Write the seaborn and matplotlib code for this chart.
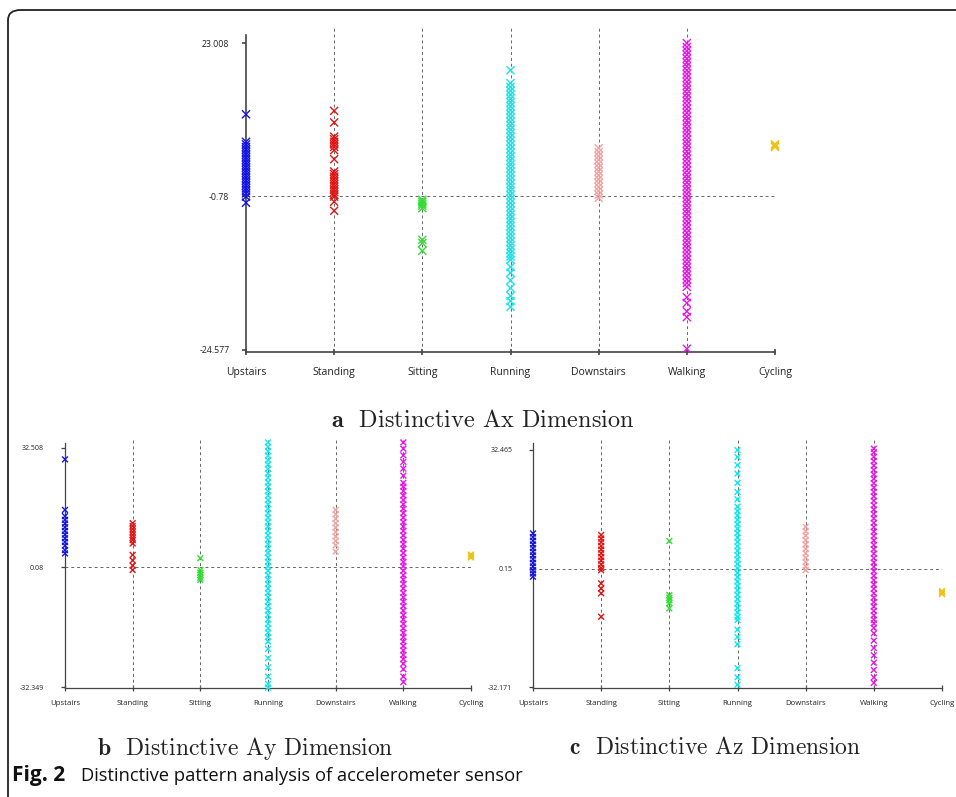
import numpy as np
import pandas as pd
import matplotlib.pyplot as plt
import seaborn as sns
from matplotlib.patches import FancyBboxPatch

sns.set_theme(style="white")
plt.rcParams['font.family'] = ['Open Sans', 'DejaVu Sans']
plt.rcParams['mathtext.fontset'] = 'cm'

activities = ['Upstairs', 'Standing', 'Sitting', 'Running', 'Downstairs', 'Walking', 'Cycling']
colors = ['#1414e0', '#e01414', '#33dd33', '#14e6ee', '#f2a2a2', '#e814e8', '#f0c010']

# ---------------- Ax values ----------------
ax_upstairs = [11.96, 7.7, 7.3, 6.9, 6.5, 6.1, 5.7, 5.3, 4.9, 4.5, 4.1, 3.7, 3.3, 2.9,
               2.5, 2.1, 1.7, 1.3, 0.9, 0.5, 0.1, -0.3, -0.8, -1.75]
ax_standing = [12.5, 10.7, 8.5, 8.1, 7.7, 7.3, 6.9, 6.4, 5.0, 3.1, 2.7, 2.3, 1.9, 1.5,
               1.1, 0.7, 0.3, -0.1, -0.5, -0.8, -1.6, -3.0]
ax_sitting = [-1.3, -1.6, -1.9, -2.2, -2.6, -7.5, -8.0, -9.2]
ax_running = [18.8, 16.8, 16.2, 15.6, 15.0, 14.4, 13.8, 13.2, 12.6, 12.0, 11.4, 10.8, 10.2,
              9.6, 9.0, 8.4, 7.8, 7.2, 6.6, 6.0, 5.4, 4.8, 4.2, 3.6, 3.0, 2.4, 1.8, 1.2,
              0.6, 0.0, -0.6, -1.2, -1.8, -2.4, -3.0, -3.6, -4.2, -4.8, -5.4, -6.0, -6.6,
              -7.2, -7.8, -8.4, -9.0, -9.6, -10.1, -10.6, -11.7, -12.6, -13.8, -15.0,
              -16.2, -17.0, -17.9]
ax_downstairs = [6.7, 6.1, 5.5, 4.9, 4.3, 3.7, 3.1, 2.5, 1.9, 1.3, 0.7, 0.1, -0.5, -1.0]
ax_walking = [23.0, 22.4, 21.8, 21.2, 20.6, 20.0, 19.4, 18.8, 18.2, 17.6, 17.0, 16.4, 15.8,
              15.2, 14.6, 14.0, 13.4, 12.8, 12.2, 11.6, 11.0, 10.4, 9.8, 9.2, 8.6, 8.0,
              7.4, 6.8, 6.2, 5.6, 5.0, 4.4, 3.8, 3.2, 2.6, 2.0, 1.4, 0.8, 0.2, -0.4, -1.0,
              -1.6, -2.2, -2.8, -3.4, -4.0, -4.6, -5.2, -5.8, -6.4, -7.0, -7.6, -8.2,
              -8.8, -9.4, -10.0, -10.6, -11.2, -11.8, -12.4, -13.0, -13.6, -14.2, -14.8,
              -16.4, -17.3, -18.6, -19.5, -24.4]
ax_cycling = [7.3, 7.1, 6.9]

# ---------------- Ay values (panel b) ----------------
ay_upstairs = [29.4, 15.7, 14.0, 13.0, 12.0, 11.0, 10.0, 9.0, 8.0, 7.0, 6.0, 4.8, 3.9]
ay_standing = [12.1, 11.3, 10.5, 9.7, 8.9, 8.1, 7.5, 6.6, 3.5, 2.0, 0.6, -0.6]
ay_sitting = [2.6, -0.6, -1.3, -2.0, -2.7, -3.3]
ay_running = [34.0, 32.8, 31.6, 30.4, 29.2, 28.0, 26.8, 25.6, 24.4, 23.2, 22.0, 20.8, 19.6,
              18.4, 17.2, 16.0, 14.8, 13.6, 12.4, 11.2, 10.0, 8.8, 7.6, 6.4, 5.2, 4.0, 2.8,
              1.6, 0.4, -0.8, -2.0, -3.2, -4.4, -5.6, -6.8, -8.0, -9.2, -10.4, -11.6,
              -12.8, -14.0, -15.2, -16.4, -17.6, -18.8, -20.0, -22.0, -24.5, -27.0,
              -29.5, -31.5, -32.5]
ay_downstairs = [15.7, 14.5, 13.3, 12.1, 10.9, 9.7, 8.5, 7.3, 6.1, 4.4]
ay_walking = [34.0, 32.3, 30.5, 28.7, 26.9, 25.0, 23.0, 22.0, 20.8, 19.6, 18.4, 17.2, 16.0,
              14.8, 13.6, 12.4, 11.2, 10.0, 8.8, 7.6, 6.4, 5.2, 4.0, 2.8, 1.6, 0.4, -0.8,
              -2.0, -3.2, -4.4, -5.6, -6.8, -8.0, -9.2, -10.4, -11.6, -12.8, -14.0, -15.2,
              -16.4, -17.6, -18.8, -20.0, -21.2, -22.4, -23.6, -24.8, -26.0, -27.5, -29.5,
              -31.0]
ay_cycling = [3.6, 3.2, 2.8]

# ---------------- Az values (panel c) ----------------
az_upstairs = [9.7, 8.7, 7.7, 6.7, 5.7, 4.7, 3.7, 2.7, 1.7, 0.7, -0.3, -1.2, -2.1]
az_standing = [9.3, 8.3, 7.3, 6.3, 5.3, 4.3, 3.3, 2.3, 1.3, 0.3, -0.3, -3.9, -5.3, -6.6, -13.0]
az_sitting = [7.65, -7.1, -7.8, -8.5, -9.3, -10.7]
az_running = [32.4, 30.5, 28.3, 26.0, 23.5, 21.0, 19.0, 17.0, 15.8, 14.6, 13.4, 12.2, 11.0,
              9.8, 8.6, 7.4, 6.2, 5.0, 3.8, 2.6, 1.4, 0.2, -1.0, -2.2, -3.4, -4.6, -5.8,
              -7.0, -8.2, -9.4, -10.6, -11.8, -13.0, -13.9, -16.5, -18.5, -20.5, -27.0,
              -29.5, -31.5]
az_downstairs = [11.5, 10.3, 9.1, 7.9, 6.7, 5.5, 4.3, 3.1, 1.9, 0.7, -0.3]
az_walking = [32.8, 31.8, 30.6, 29.4, 28.2, 27.0, 25.8, 24.6, 23.4, 22.2, 21.0, 19.8, 18.6,
              17.4, 16.2, 15.0, 13.8, 12.6, 11.4, 10.2, 9.0, 7.8, 6.6, 5.4, 4.2, 3.0, 1.8,
              0.6, -0.6, -1.8, -3.0, -4.2, -5.4, -6.6, -7.8, -9.0, -10.2, -11.4, -12.6,
              -13.8, -14.8, -16.0, -17.5, -19.5, -21.5, -23.5, -25.5, -27.5, -29.5, -31.0]
az_cycling = [-6.0, -6.4, -6.8]

# axis labels: (bottom, middle, top) as printed
ax_ticks = [-24.577, -0.78, 23.008]
ay_ticks = [-32.349, 0.08, 32.508]
az_ticks = [-32.171, 0.15, 32.465]


def to_frame(groups):
    rows = []
    for act, vals in zip(activities, groups):
        rows += [(act, v) for v in vals]
    return pd.DataFrame(rows, columns=['activity', 'value'])


df_x = to_frame([ax_upstairs, ax_standing, ax_sitting, ax_running, ax_downstairs, ax_walking, ax_cycling])
df_y = to_frame([ay_upstairs, ay_standing, ay_sitting, ay_running, ay_downstairs, ay_walking, ay_cycling])
df_z = to_frame([az_upstairs, az_standing, az_sitting, az_running, az_downstairs, az_walking, az_cycling])

fig = plt.figure(figsize=(9.56, 7.97), dpi=100)
W, H = 956, 797


def add_axes(left, right, top, bottom):
    return fig.add_axes([left / W, 1 - bottom / H, (right - left) / W, (bottom - top) / H])


def draw_panel(ax, df, ticks, ylim, spine_top, msize, xfs, yfs, xpad, ypad, lw):
    sns.stripplot(data=df, x='activity', y='value', hue='activity', order=activities,
                  hue_order=activities, palette=colors, marker='x', size=msize,
                  linewidth=1.0, jitter=False, legend=False, ax=ax, zorder=3)
    for c in ax.collections:
        c.set_clip_on(False)
    ax.set_xlim(0, 6)
    ax.set_ylim(*ylim)
    for i in range(1, 7):
        ax.axvline(i, color='#666666', lw=0.7, ls=(0, (3, 3)), zorder=1)
    ax.axhline(ticks[1], color='#666666', lw=0.7, ls=(0, (3, 3)), zorder=1)
    for s in ['top', 'right']:
        ax.spines[s].set_visible(False)
    for s in ['left', 'bottom']:
        ax.spines[s].set_color('#444444')
        ax.spines[s].set_linewidth(lw)
    ax.spines['left'].set_bounds(ylim[0], spine_top)
    ax.set_yticks(ticks)
    ax.set_yticklabels([f"{t:g}" if t != ticks[0] and t != ticks[2] else f"{t}" for t in ticks])
    ax.set_xlabel('')
    ax.set_ylabel('')
    ax.tick_params(axis='x', labelsize=xfs, pad=xpad, direction='inout', length=5,
                   width=lw, color='#444444', bottom=True, labelcolor='#222222')
    ax.tick_params(axis='y', labelsize=yfs, pad=ypad, direction='out', length=3,
                   width=lw, color='#444444', left=True, labelcolor='#222222')
    ax.grid(False)
    ax.set_facecolor('none')


# panel a
axa = add_axes(246, 775, 27, 352)
draw_panel(axa, df_x, ax_ticks, (-24.9, 25.5), 24.25, 5.8, 7.5, 6.3, 8, 9, 1.2)

# panel b
axb = add_axes(65, 471, 438, 688)
draw_panel(axb, df_y, ay_ticks, (-32.6, 35.2), 33.9, 4.2, 5.6, 5.0, 6, 12, 0.9)

# panel c
axc = add_axes(533, 942, 438, 688)
draw_panel(axc, df_z, az_ticks, (-32.4, 35.7), 34.3, 4.2, 5.6, 5.0, 6, 12, 0.9)

# sub-captions
fig.text(483 / W, 1 - 421 / H, r"$\mathbf{a}$  Distinctive Ax Dimension", family='cmr10',
         fontsize=17.5, ha='center', va='center', color='#222222')
fig.text(245 / W, 1 - 748 / H, r"$\mathbf{b}$  Distinctive Ay Dimension", family='cmr10',
         fontsize=17, ha='center', va='center', color='#222222')
fig.text(715 / W, 1 - 748 / H, r"$\mathbf{c}$  Distinctive Az Dimension", family='cmr10',
         fontsize=17, ha='center', va='center', color='#222222')

# figure caption
fig.text(12 / W, 1 - 776 / H, "Fig. 2", family=['Liberation Sans Narrow', 'Open Sans'],
         fontweight='bold', fontsize=15, ha='left', va='center', color='#111111')
fig.text(81 / W, 1 - 776 / H, "Distinctive pattern analysis of accelerometer sensor",
         family=['Liberation Sans Narrow', 'Open Sans'], fontsize=13.2, ha='left',
         va='center', color='#111111')

# rounded frame (top and left edges visible)
frame = FancyBboxPatch((8 / W, -0.2), 1.2, 1.2 - 10 / H,
                       boxstyle="round,pad=0,rounding_size=0.013",
                       transform=fig.transFigure, fill=False, edgecolor='#222222',
                       lw=1.3, clip_on=True)
fig.patches.append(frame)

fig.savefig('out.png', dpi=100)
